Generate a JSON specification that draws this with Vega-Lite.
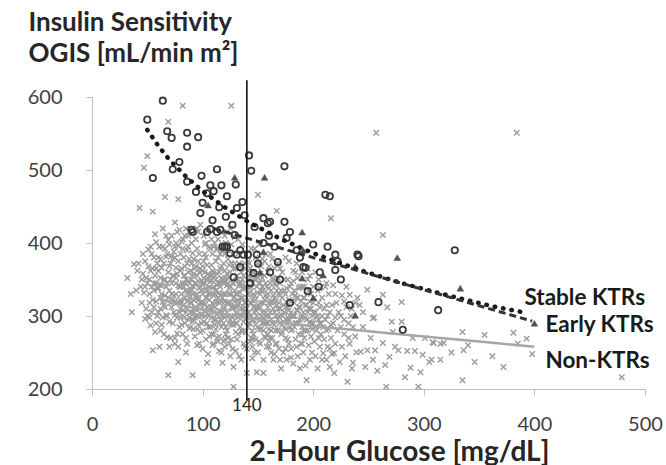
{
"$schema": "https://vega.github.io/schema/vega-lite/v6.json",
"width": 553, "height": 292,
"autosize": {"type": "none"},
"padding": {"left": 92, "top": 97, "right": 21, "bottom": 76},
"config": {"view": {"stroke": null}, "font": "Lato"},
"datasets": {
"non": [
{"g":32,"o":352},{"g":35,"o":330},{"g":38,"o":371},{"g":36,"o":305},
{"g":41,"o":362},{"g":43,"o":448},{"g":44,"o":340},{"g":45,"o":318},{"g":46,"o":385},{"g":47,"o":503},{"g":48,"o":296},{"g":49,"o":352},{"g":42,"o":372},
{"g":50,"o":519},{"g":51,"o":391},{"g":52,"o":330},{"g":53,"o":362},{"g":54,"o":305},{"g":55,"o":443},{"g":55,"o":253},{"g":56,"o":345},{"g":57,"o":278},{"g":58,"o":401},{"g":58,"o":320},{"g":59,"o":372},{"g":53,"o":287},{"g":57,"o":412},
{"g":60,"o":338},{"g":61,"o":258},{"g":61,"o":395},{"g":62,"o":310},{"g":63,"o":366},{"g":63,"o":288},{"g":64,"o":420},{"g":65,"o":350},{"g":66,"o":463},{"g":66,"o":328},{"g":67,"o":301},{"g":67,"o":381},{"g":68,"o":271},{"g":68,"o":345},{"g":69,"o":219},{"g":69,"o":566},{"g":69,"o":404},{"g":62,"o":352},{"g":64,"o":319},{"g":66,"o":392},
{"g":70,"o":258},{"g":70,"o":335},{"g":71,"o":372},{"g":72,"o":312},{"g":72,"o":410},{"g":73,"o":290},{"g":73,"o":355},{"g":74,"o":388},{"g":74,"o":328},{"g":75,"o":301},{"g":75,"o":428},{"g":76,"o":345},{"g":76,"o":366},{"g":77,"o":276},{"g":77,"o":318},{"g":78,"o":460},{"g":78,"o":258},{"g":78,"o":237},{"g":78,"o":396},{"g":79,"o":340},{"g":79,"o":305},{"g":71,"o":350},{"g":73,"o":378},{"g":75,"o":320},{"g":77,"o":415},{"g":79,"o":285},
{"g":80,"o":362},{"g":80,"o":298},{"g":81,"o":330},{"g":81,"o":402},{"g":82,"o":588},{"g":82,"o":345},{"g":82,"o":275},{"g":83,"o":315},{"g":83,"o":380},{"g":84,"o":355},{"g":84,"o":290},{"g":85,"o":420},{"g":85,"o":335},{"g":86,"o":310},{"g":86,"o":372},{"g":86,"o":262},{"g":87,"o":348},{"g":87,"o":395},{"g":88,"o":325},{"g":88,"o":283},{"g":89,"o":362},{"g":89,"o":305},{"g":80,"o":385},{"g":81,"o":318},{"g":83,"o":340},{"g":85,"o":270},{"g":87,"o":410},{"g":89,"o":338},{"g":84,"o":368},{"g":88,"o":298},
{"g":90,"o":350},{"g":90,"o":318},{"g":91,"o":219},{"g":91,"o":386},{"g":92,"o":295},{"g":92,"o":340},{"g":93,"o":365},{"g":93,"o":272},{"g":94,"o":328},{"g":94,"o":405},{"g":95,"o":308},{"g":95,"o":355},{"g":96,"o":288},{"g":96,"o":375},{"g":97,"o":338},{"g":97,"o":262},{"g":98,"o":318},{"g":98,"o":425},{"g":99,"o":348},{"g":99,"o":300},{"g":90,"o":372},{"g":91,"o":330},{"g":92,"o":282},{"g":93,"o":312},{"g":95,"o":392},{"g":96,"o":325},{"g":97,"o":360},{"g":98,"o":278},{"g":99,"o":335},{"g":94,"o":345},{"g":96,"o":415},{"g":91,"o":305},
{"g":100,"o":330},{"g":100,"o":368},{"g":101,"o":292},{"g":101,"o":410},{"g":102,"o":345},{"g":102,"o":315},{"g":103,"o":380},{"g":103,"o":268},{"g":104,"o":236},{"g":104,"o":335},{"g":105,"o":358},{"g":105,"o":302},{"g":106,"o":322},{"g":106,"o":395},{"g":107,"o":285},{"g":107,"o":348},{"g":108,"o":370},{"g":108,"o":310},{"g":109,"o":338},{"g":109,"o":260},{"g":100,"o":302},{"g":101,"o":352},{"g":102,"o":385},{"g":103,"o":325},{"g":104,"o":290},{"g":105,"o":418},{"g":106,"o":340},{"g":107,"o":312},{"g":108,"o":275},{"g":109,"o":362},{"g":110,"o":328},{"g":110,"o":395},{"g":104,"o":350},{"g":106,"o":300},
{"g":111,"o":355},{"g":111,"o":288},{"g":112,"o":318},{"g":112,"o":375},{"g":113,"o":342},{"g":113,"o":302},{"g":114,"o":265},{"g":114,"o":405},{"g":115,"o":332},{"g":115,"o":360},{"g":116,"o":295},{"g":116,"o":385},{"g":117,"o":320},{"g":117,"o":250},{"g":118,"o":236},{"g":118,"o":350},{"g":119,"o":310},{"g":119,"o":372},{"g":110,"o":340},{"g":112,"o":282},{"g":113,"o":392},{"g":114,"o":325},{"g":115,"o":272},{"g":116,"o":345},{"g":117,"o":300},{"g":118,"o":415},{"g":119,"o":330},{"g":111,"o":312},{"g":113,"o":358},{"g":115,"o":308},{"g":117,"o":368},{"g":119,"o":290},
{"g":120,"o":320},{"g":120,"o":362},{"g":121,"o":285},{"g":121,"o":400},{"g":122,"o":342},{"g":122,"o":305},{"g":123,"o":270},{"g":123,"o":378},{"g":124,"o":330},{"g":124,"o":352},{"g":125,"o":295},{"g":125,"o":420},{"g":126,"o":588},{"g":126,"o":312},{"g":127,"o":345},{"g":127,"o":255},{"g":128,"o":203},{"g":128,"o":230},{"g":128,"o":365},{"g":129,"o":300},{"g":129,"o":335},{"g":120,"o":348},{"g":121,"o":275},{"g":122,"o":390},{"g":123,"o":318},{"g":124,"o":262},{"g":125,"o":340},{"g":126,"o":372},{"g":127,"o":298},{"g":128,"o":325},{"g":129,"o":408},{"g":122,"o":358},{"g":126,"o":288},
{"g":130,"o":330},{"g":130,"o":290},{"g":131,"o":355},{"g":131,"o":268},{"g":132,"o":315},{"g":132,"o":385},{"g":133,"o":342},{"g":133,"o":245},{"g":134,"o":302},{"g":134,"o":368},{"g":135,"o":325},{"g":135,"o":280},{"g":136,"o":350},{"g":136,"o":398},{"g":137,"o":310},{"g":137,"o":262},{"g":138,"o":338},{"g":138,"o":372},{"g":139,"o":295},{"g":139,"o":318},{"g":130,"o":348},{"g":132,"o":275},{"g":134,"o":332},{"g":136,"o":300},{"g":138,"o":258},{"g":131,"o":312},{"g":135,"o":360},{"g":139,"o":340},
{"g":140,"o":222},{"g":140,"o":325},{"g":141,"o":350},{"g":141,"o":285},{"g":142,"o":305},{"g":142,"o":372},{"g":143,"o":338},{"g":143,"o":265},{"g":144,"o":318},{"g":144,"o":392},{"g":145,"o":295},{"g":145,"o":345},{"g":146,"o":275},{"g":146,"o":360},{"g":147,"o":328},{"g":147,"o":250},{"g":148,"o":308},{"g":148,"o":380},{"g":149,"o":223},{"g":149,"o":340},{"g":140,"o":298},{"g":142,"o":332},{"g":144,"o":270},{"g":146,"o":312},{"g":148,"o":288},{"g":141,"o":362},{"g":145,"o":322},
{"g":150,"o":315},{"g":150,"o":352},{"g":151,"o":282},{"g":151,"o":398},{"g":152,"o":330},{"g":152,"o":262},{"g":153,"o":300},{"g":153,"o":368},{"g":154,"o":340},{"g":154,"o":290},{"g":155,"o":222},{"g":155,"o":318},{"g":156,"o":375},{"g":156,"o":272},{"g":157,"o":305},{"g":157,"o":345},{"g":158,"o":258},{"g":158,"o":325},{"g":159,"o":290},{"g":159,"o":360},{"g":151,"o":310},{"g":153,"o":335},{"g":155,"o":280},{"g":157,"o":385},{"g":159,"o":312},{"g":152,"o":295},
{"g":160,"o":300},{"g":160,"o":338},{"g":161,"o":270},{"g":161,"o":385},{"g":162,"o":318},{"g":162,"o":250},{"g":163,"o":352},{"g":163,"o":290},{"g":164,"o":328},{"g":164,"o":240},{"g":165,"o":305},{"g":165,"o":365},{"g":166,"o":280},{"g":166,"o":342},{"g":167,"o":315},{"g":167,"o":262},{"g":168,"o":295},{"g":168,"o":372},{"g":169,"o":330},{"g":169,"o":255},{"g":161,"o":305},{"g":163,"o":320},{"g":165,"o":288},{"g":167,"o":348},{"g":169,"o":300},
{"g":170,"o":310},{"g":170,"o":345},{"g":171,"o":275},{"g":171,"o":228},{"g":172,"o":325},{"g":172,"o":360},{"g":173,"o":292},{"g":173,"o":250},{"g":174,"o":335},{"g":174,"o":305},{"g":175,"o":270},{"g":175,"o":380},{"g":176,"o":318},{"g":176,"o":240},{"g":177,"o":298},{"g":177,"o":350},{"g":178,"o":262},{"g":178,"o":322},{"g":179,"o":285},{"g":179,"o":340},{"g":172,"o":300},{"g":175,"o":312},{"g":178,"o":295},
{"g":180,"o":305},{"g":180,"o":255},{"g":181,"o":330},{"g":181,"o":282},{"g":182,"o":348},{"g":182,"o":235},{"g":183,"o":300},{"g":183,"o":318},{"g":184,"o":268},{"g":184,"o":360},{"g":185,"o":290},{"g":185,"o":325},{"g":186,"o":245},{"g":186,"o":308},{"g":187,"o":338},{"g":187,"o":275},{"g":188,"o":295},{"g":188,"o":228},{"g":189,"o":320},{"g":189,"o":262},
{"g":190,"o":285},{"g":190,"o":340},{"g":191,"o":250},{"g":191,"o":305},{"g":192,"o":325},{"g":192,"o":270},{"g":193,"o":232},{"g":193,"o":298},{"g":194,"o":212},{"g":194,"o":315},{"g":195,"o":280},{"g":195,"o":350},{"g":196,"o":260},{"g":196,"o":310},{"g":197,"o":292},{"g":197,"o":240},{"g":198,"o":330},{"g":198,"o":272},{"g":199,"o":300},{"g":199,"o":250},
{"g":200,"o":290},{"g":200,"o":318},{"g":201,"o":265},{"g":202,"o":245},{"g":202,"o":305},{"g":203,"o":280},{"g":204,"o":335},{"g":204,"o":228},{"g":205,"o":295},{"g":206,"o":258},{"g":206,"o":312},{"g":207,"o":275},{"g":208,"o":240},{"g":208,"o":300},{"g":209,"o":249},{"g":209,"o":285},
{"g":210,"o":268},{"g":211,"o":295},{"g":212,"o":240},{"g":212,"o":315},{"g":213,"o":258},{"g":214,"o":282},{"g":215,"o":230},{"g":215,"o":305},{"g":216,"o":270},{"g":217,"o":248},{"g":218,"o":290},{"g":219,"o":222},{"g":219,"o":249},{"g":220,"o":262},
{"g":222,"o":280},{"g":224,"o":237},{"g":225,"o":300},{"g":226,"o":258},{"g":228,"o":275},{"g":229,"o":245},{"g":231,"o":210},{"g":232,"o":290},{"g":233,"o":262},{"g":235,"o":228},{"g":236,"o":236},{"g":238,"o":272},{"g":239,"o":250},
{"g":243,"o":251},{"g":245,"o":285},{"g":247,"o":230},{"g":249,"o":253},{"g":252,"o":270},{"g":254,"o":240},{"g":256,"o":253},{"g":258,"o":225},{"g":263,"o":263},{"g":265,"o":233},{"g":266,"o":203},{"g":269,"o":244},{"g":272,"o":278},{"g":274,"o":258},{"g":277,"o":253},{"g":280,"o":292},{"g":280,"o":319},{"g":283,"o":216},{"g":285,"o":252},{"g":288,"o":229},{"g":290,"o":270},{"g":292,"o":252},{"g":295,"o":203},{"g":297,"o":223},{"g":299,"o":247},
{"g":301,"o":270},{"g":305,"o":237},{"g":307,"o":240},{"g":308,"o":264},{"g":309,"o":263},{"g":315,"o":262},{"g":315,"o":240},{"g":318,"o":263},{"g":325,"o":250},{"g":335,"o":278},{"g":335,"o":212},{"g":336,"o":253},{"g":340,"o":260},{"g":346,"o":237},{"g":355,"o":274},{"g":362,"o":245},{"g":372,"o":230},{"g":381,"o":277},{"g":385,"o":262},{"g":393,"o":269},{"g":384,"o":551},{"g":479,"o":216},{"g":398,"o":248},
{"g":257,"o":551},{"g":150,"o":466},{"g":167,"o":444},{"g":216,"o":434},{"g":263,"o":411},{"g":249,"o":336},{"g":263,"o":329},{"g":233,"o":329},{"g":242,"o":315},{"g":267,"o":312},{"g":254,"o":297},{"g":271,"o":292},{"g":185,"o":372},{"g":195,"o":365},{"g":205,"o":350},{"g":212,"o":345},{"g":220,"o":330},{"g":228,"o":320},{"g":235,"o":310},{"g":245,"o":305},{"g":255,"o":298},{"g":230,"o":340},{"g":240,"o":325},
{"g":46,"o":358},{"g":47,"o":332},{"g":48,"o":375},{"g":49,"o":310},{"g":50,"o":345},{"g":51,"o":368},{"g":52,"o":298},{"g":53,"o":395},{"g":54,"o":340},{"g":55,"o":322},{"g":56,"o":380},{"g":57,"o":355},{"g":58,"o":290},{"g":59,"o":338},{"g":50,"o":300},{"g":52,"o":350},{"g":54,"o":385},{"g":56,"o":312},{"g":58,"o":365},{"g":59,"o":300},
{"g":60,"o":362},{"g":60,"o":305},{"g":61,"o":342},{"g":62,"o":378},{"g":62,"o":280},{"g":63,"o":330},{"g":64,"o":395},{"g":64,"o":298},{"g":65,"o":315},{"g":65,"o":372},{"g":66,"o":350},{"g":67,"o":340},{"g":67,"o":410},{"g":68,"o":300},{"g":68,"o":385},{"g":69,"o":325},{"g":69,"o":360},{"g":70,"o":292},{"g":70,"o":398},{"g":71,"o":318},{"g":71,"o":270},{"g":72,"o":345},{"g":72,"o":382},{"g":73,"o":322},{"g":74,"o":305},{"g":74,"o":355},{"g":75,"o":380},{"g":75,"o":270},{"g":76,"o":330},{"g":76,"o":400},{"g":77,"o":298},{"g":77,"o":358},{"g":78,"o":342},{"g":78,"o":375},{"g":79,"o":318},{"g":79,"o":418},
{"g":80,"o":340},{"g":80,"o":322},{"g":81,"o":288},{"g":81,"o":365},{"g":82,"o":308},{"g":82,"o":392},{"g":83,"o":355},{"g":83,"o":298},{"g":84,"o":325},{"g":84,"o":410},{"g":85,"o":350},{"g":85,"o":305},{"g":86,"o":390},{"g":86,"o":332},{"g":87,"o":295},{"g":87,"o":360},{"g":88,"o":345},{"g":88,"o":378},{"g":89,"o":318},{"g":89,"o":285},{"g":90,"o":335},{"g":90,"o":400},{"g":91,"o":355},{"g":91,"o":292},{"g":92,"o":322},{"g":92,"o":378},{"g":93,"o":345},{"g":93,"o":298},{"g":94,"o":310},{"g":94,"o":368},{"g":95,"o":282},{"g":95,"o":330},{"g":96,"o":348},{"g":96,"o":300},{"g":97,"o":385},{"g":97,"o":315},{"g":98,"o":340},{"g":98,"o":365},{"g":99,"o":290},{"g":99,"o":318},
{"g":100,"o":345},{"g":100,"o":280},{"g":101,"o":318},{"g":101,"o":375},{"g":102,"o":300},{"g":102,"o":360},{"g":103,"o":338},{"g":103,"o":400},{"g":104,"o":312},{"g":104,"o":370},{"g":105,"o":285},{"g":105,"o":330},{"g":106,"o":355},{"g":106,"o":272},{"g":107,"o":392},{"g":107,"o":330},{"g":108,"o":298},{"g":108,"o":348},{"g":109,"o":318},{"g":109,"o":385},{"g":110,"o":305},{"g":110,"o":360},{"g":111,"o":330},{"g":111,"o":400},{"g":112,"o":295},{"g":112,"o":350},{"g":113,"o":320},{"g":113,"o":270},{"g":114,"o":345},{"g":114,"o":380},{"g":115,"o":290},{"g":115,"o":318},{"g":116,"o":365},{"g":116,"o":328},{"g":117,"o":285},{"g":117,"o":352},{"g":118,"o":305},{"g":118,"o":390},{"g":119,"o":345},{"g":119,"o":265},
{"g":120,"o":298},{"g":120,"o":385},{"g":121,"o":330},{"g":121,"o":352},{"g":122,"o":280},{"g":122,"o":318},{"g":123,"o":345},{"g":123,"o":300},{"g":124,"o":370},{"g":124,"o":290},{"g":125,"o":318},{"g":125,"o":360},{"g":126,"o":330},{"g":126,"o":268},{"g":127,"o":310},{"g":127,"o":385},{"g":128,"o":345},{"g":128,"o":288},{"g":129,"o":320},{"g":129,"o":372},{"g":130,"o":305},{"g":130,"o":365},{"g":131,"o":330},{"g":131,"o":290},{"g":132,"o":350},{"g":132,"o":298},{"g":133,"o":318},{"g":133,"o":372},{"g":134,"o":285},{"g":134,"o":345},{"g":135,"o":310},{"g":135,"o":342},{"g":136,"o":325},{"g":136,"o":278},{"g":137,"o":355},{"g":137,"o":292},{"g":138,"o":318},{"g":138,"o":305},{"g":139,"o":365},{"g":139,"o":278},
{"g":140,"o":340},{"g":140,"o":310},{"g":141,"o":300},{"g":141,"o":330},{"g":142,"o":355},{"g":142,"o":290},{"g":143,"o":318},{"g":143,"o":365},{"g":144,"o":300},{"g":144,"o":340},{"g":145,"o":280},{"g":145,"o":360},{"g":146,"o":330},{"g":146,"o":295},{"g":147,"o":350},{"g":147,"o":305},{"g":148,"o":322},{"g":148,"o":268},{"g":149,"o":300},{"g":149,"o":355},{"g":150,"o":285},{"g":150,"o":332},{"g":151,"o":345},{"g":151,"o":265},{"g":152,"o":312},{"g":152,"o":358},{"g":153,"o":282},{"g":153,"o":318},{"g":154,"o":305},{"g":154,"o":352},{"g":155,"o":335},{"g":155,"o":298},{"g":156,"o":322},{"g":156,"o":290},{"g":157,"o":270},{"g":157,"o":328},{"g":158,"o":340},{"g":158,"o":300},{"g":159,"o":275},{"g":159,"o":330},
{"g":160,"o":318},{"g":160,"o":282},{"g":161,"o":345},{"g":162,"o":295},{"g":162,"o":335},{"g":163,"o":270},{"g":164,"o":310},{"g":164,"o":350},{"g":165,"o":325},{"g":166,"o":300},{"g":166,"o":262},{"g":167,"o":335},{"g":168,"o":310},{"g":168,"o":280},{"g":169,"o":318},{"g":170,"o":290},{"g":170,"o":328},{"g":171,"o":302},{"g":172,"o":278},{"g":173,"o":315},{"g":174,"o":285},{"g":175,"o":330},{"g":176,"o":295},{"g":177,"o":268},{"g":178,"o":308},{"g":179,"o":300},{"g":180,"o":320},{"g":180,"o":280},{"g":182,"o":300},{"g":183,"o":335},{"g":184,"o":290},{"g":185,"o":308},{"g":186,"o":325},{"g":187,"o":290},{"g":188,"o":312},{"g":190,"o":300},{"g":191,"o":325},{"g":193,"o":280},{"g":195,"o":305},{"g":197,"o":320},{"g":198,"o":290},{"g":200,"o":305},{"g":202,"o":285},{"g":204,"o":300},{"g":206,"o":290},
{"g":141,"o":375},{"g":143,"o":290},{"g":145,"o":268},{"g":147,"o":392},{"g":149,"o":312},{"g":150,"o":372},{"g":152,"o":345},{"g":154,"o":378},{"g":156,"o":355},{"g":158,"o":290},{"g":160,"o":368},{"g":162,"o":280},{"g":163,"o":378},{"g":165,"o":345},{"g":166,"o":320},{"g":168,"o":352},{"g":170,"o":365},{"g":171,"o":335},{"g":172,"o":288},{"g":174,"o":350},{"g":176,"o":338},{"g":177,"o":312},{"g":178,"o":375},{"g":180,"o":345},{"g":181,"o":300},{"g":182,"o":362},{"g":183,"o":285},{"g":184,"o":328},{"g":186,"o":352},{"g":187,"o":312},{"g":188,"o":340},{"g":189,"o":298},{"g":190,"o":360},{"g":191,"o":280},{"g":192,"o":340},{"g":193,"o":315},{"g":194,"o":295},{"g":196,"o":335},{"g":197,"o":355},{"g":198,"o":310},{"g":199,"o":282},{"g":200,"o":340},{"g":201,"o":325},{"g":202,"o":360},{"g":203,"o":298},{"g":205,"o":318},{"g":206,"o":338},{"g":207,"o":290},{"g":208,"o":325},{"g":210,"o":310},{"g":211,"o":340},{"g":212,"o":280},{"g":213,"o":300},{"g":214,"o":330},{"g":216,"o":288},{"g":217,"o":315},{"g":218,"o":342},{"g":220,"o":298},{"g":221,"o":318},{"g":223,"o":305},{"g":225,"o":285},{"g":226,"o":328},{"g":228,"o":295},{"g":230,"o":312},{"g":232,"o":270},{"g":234,"o":300},{"g":236,"o":285},{"g":238,"o":318},
{"g":100,"o":255},{"g":105,"o":248},{"g":110,"o":262},{"g":115,"o":252},{"g":120,"o":258},{"g":125,"o":245},{"g":130,"o":252},{"g":135,"o":240},{"g":140,"o":255},{"g":145,"o":242},{"g":150,"o":250},{"g":155,"o":240},{"g":160,"o":258},{"g":165,"o":248},{"g":170,"o":240},{"g":175,"o":255},{"g":180,"o":243},{"g":185,"o":258},{"g":190,"o":262},{"g":95,"o":260},{"g":85,"o":250},{"g":75,"o":262},{"g":65,"o":275},{"g":110,"o":275},{"g":120,"o":268},{"g":130,"o":278},{"g":145,"o":258},{"g":160,"o":265},{"g":175,"o":282},{"g":190,"o":275},{"g":205,"o":270},{"g":215,"o":255},
{"g":75,"o":395},{"g":82,"o":405},{"g":88,"o":415},{"g":95,"o":420},{"g":102,"o":398},{"g":108,"o":405},{"g":114,"o":392},{"g":120,"o":410},{"g":126,"o":398},{"g":132,"o":405},{"g":60,"o":380},{"g":55,"o":365},{"g":48,"o":340},{"g":45,"o":350},{"g":40,"o":335},{"g":58,"o":345},{"g":63,"o":342},{"g":70,"o":368},{"g":76,"o":352},{"g":84,"o":345},{"g":92,"o":358},{"g":100,"o":362},{"g":108,"o":355},{"g":116,"o":340},{"g":124,"o":338},{"g":132,"o":322},{"g":136,"o":338},{"g":88,"o":330},{"g":96,"o":322},{"g":104,"o":325},{"g":112,"o":335},{"g":120,"o":312},{"g":128,"o":312},{"g":72,"o":330},{"g":66,"o":312},{"g":62,"o":325},{"g":56,"o":335},{"g":52,"o":318},{"g":80,"o":310},{"g":86,"o":320},{"g":94,"o":300},{"g":102,"o":308},{"g":110,"o":295},{"g":118,"o":325}
],
"stable": [
{"g":64,"o":595},{"g":50,"o":569},{"g":68,"o":553},{"g":72,"o":544},{"g":86,"o":551},{"g":96,"o":545},{"g":86,"o":532},{"g":79,"o":511},{"g":73,"o":501},{"g":55,"o":489},{"g":99,"o":492},{"g":113,"o":501},{"g":86,"o":484},{"g":107,"o":479},{"g":117,"o":479},{"g":110,"o":471},{"g":104,"o":468},{"g":122,"o":464},{"g":144,"o":499},{"g":142,"o":520},{"g":174,"o":505},{"g":136,"o":456},{"g":155,"o":434},{"g":159,"o":427},{"g":147,"o":422},{"g":138,"o":438},{"g":131,"o":448},{"g":115,"o":449},{"g":121,"o":436},{"g":109,"o":431},{"g":98,"o":441},{"g":90,"o":418},{"g":107,"o":419},{"g":116,"o":418},{"g":129,"o":411},{"g":122,"o":395},{"g":134,"o":390},{"g":141,"o":384},{"g":149,"o":384},{"g":211,"o":466},{"g":215,"o":464},{"g":161,"o":429},{"g":174,"o":429},{"g":179,"o":415},{"g":176,"o":407},{"g":213,"o":395},{"g":127,"o":425},{"g":120,"o":395},{"g":220,"o":384},{"g":222,"o":375},{"g":241,"o":382},{"g":220,"o":363},{"g":193,"o":366},{"g":161,"o":360},{"g":168,"o":374},{"g":195,"o":334},{"g":179,"o":318},{"g":233,"o":315},{"g":259,"o":319},{"g":281,"o":281},{"g":313,"o":308},{"g":328,"o":390},{"g":240,"o":384},{"g":146,"o":359},{"g":191,"o":367},{"g":206,"o":360},{"g":91,"o":415},{"g":104,"o":415},{"g":113,"o":415},{"g":118,"o":395},{"g":125,"o":386},{"g":131,"o":384},{"g":137,"o":384},{"g":128,"o":353},{"g":134,"o":367},{"g":130,"o":480},{"g":155,"o":400},{"g":165,"o":395},{"g":185,"o":390},{"g":200,"o":398},{"g":188,"o":380},{"g":150,"o":372},{"g":143,"o":345},{"g":170,"o":350},{"g":205,"o":340},{"g":225,"o":350},{"g":160,"o":410},{"g":100,"o":455},{"g":94,"o":470}
],
"early": [
{"g":105,"o":452},{"g":129,"o":490},{"g":156,"o":490},{"g":155,"o":388},{"g":190,"o":415},{"g":191,"o":390},{"g":152,"o":360},{"g":190,"o":352},{"g":209,"o":356},{"g":200,"o":325},{"g":238,"o":368},{"g":238,"o":301},{"g":276,"o":380},{"g":333,"o":338},{"g":400,"o":290}
],
"stableFit": [
{"g":50,"o":555},{"g":60,"o":533},{"g":70,"o":514},{"g":85,"o":491},{"g":100,"o":471},{"g":120,"o":449},{"g":140,"o":430},{"g":170,"o":406},{"g":200,"o":386},{"g":240,"o":364},{"g":280,"o":345},{"g":320,"o":329},{"g":360,"o":314},{"g":390,"o":305}
],
"earlyFit": [
{"g":110,"o":420},{"g":146,"o":404},{"g":200,"o":380},{"g":250,"o":358},{"g":300,"o":336},{"g":350,"o":314},{"g":398,"o":293}
],
"nonFit": [
{"g":60,"o":324},{"g":80,"o":315},{"g":120,"o":302},{"g":160,"o":293},{"g":200,"o":286},{"g":250,"o":279},{"g":300,"o":272},{"g":350,"o":265},{"g":400,"o":258}
],
"labels": [
{"g":391,"o":325,"t":"Stable KTRs"},{"g":410,"o":288,"t":"Early KTRs"},{"g":410,"o":239,"t":"Non-KTRs"}
],
"cut": [{"g":140,"o":623,"o2":185}],
"cutLabel": [{"g":140,"o":177,"t":"140"}]
},
"encoding": {
"x": {"field": "g", "type": "quantitative", "scale": {"domain": [0, 500], "nice": false},
 "axis": {"title": "2-Hour Glucose [mg/dL]", "values": [0,100,200,300,400,500], "grid": false,
  "domainColor": "#bfbfbf", "tickColor": "#bfbfbf", "tickSize": 6,
  "labelFont": "Lato", "labelFontSize": 20, "labelColor": "#404040", "labelPadding": 19, "labelFlush": false, "labelOverlap": false,
  "titleFont": "Lato", "titleFontSize": 28, "titleFontWeight": "bold", "titleColor": "#262626",
  "titleX": 307, "titleY": 71, "titleAlign": "center", "titleBaseline": "alphabetic"}},
"y": {"field": "o", "type": "quantitative", "scale": {"domain": [200, 600], "nice": false, "zero": false},
 "axis": {"title": ["Insulin Sensitivity", "OGIS [mL/min m²]"], "values": [200,300,400,500,600], "grid": false,
  "domainColor": "#bfbfbf", "tickColor": "#bfbfbf", "tickSize": 6,
  "labelFont": "Lato", "labelFontSize": 20, "labelColor": "#404040", "labelPadding": 24, "labelFlush": false, "labelOverlap": false,
  "titleFont": "Lato", "titleFontSize": 26, "titleFontWeight": "bold", "titleColor": "#262626",
  "titleAngle": 0, "titleAlign": "left", "titleBaseline": "top", "titleX": -64, "titleY": -88, "titleLineHeight": 31}}
},
"layer": [
{"data": {"name": "non"}, "mark": {"type": "point", "shape": "M-1,-1L1,1M-1,1L1,-1", "filled": false, "stroke": "#9b9b9b", "strokeWidth": 1.4, "size": 30, "opacity": 1}},
{"data": {"name": "nonFit"}, "mark": {"type": "line", "stroke": "#a6a6a6", "strokeWidth": 2.5}},
{"data": {"name": "stable"}, "mark": {"type": "point", "shape": "circle", "filled": false, "stroke": "#3a3a3a", "strokeWidth": 1.8, "size": 40, "opacity": 1}},
{"data": {"name": "early"}, "mark": {"type": "point", "shape": "triangle-up", "filled": true, "fill": "#505050", "stroke": "#505050", "strokeWidth": 0.5, "size": 45, "opacity": 1}},
{"data": {"name": "stableFit"}, "mark": {"type": "line", "stroke": "#1a1a1a", "strokeWidth": 4.5, "strokeDash": [0.5, 8], "strokeCap": "round"}},
{"data": {"name": "earlyFit"}, "mark": {"type": "line", "stroke": "#333333", "strokeWidth": 3, "strokeDash": [7, 4]}},
{"data": {"name": "labels"}, "mark": {"type": "text", "align": "left", "baseline": "middle", "font": "Lato", "fontWeight": "bold", "fontSize": 22.5, "color": "#1a1a1a"},
 "encoding": {"text": {"field": "t"}}},
{"data": {"name": "cut"}, "mark": {"type": "rule", "color": "#111111", "strokeWidth": 1.6},
 "encoding": {"y2": {"field": "o2"}}},
{"data": {"name": "cutLabel"}, "mark": {"type": "text", "font": "Lato", "fontSize": 17, "color": "#222222", "baseline": "middle"},
 "encoding": {"text": {"field": "t"}}}
]
}
